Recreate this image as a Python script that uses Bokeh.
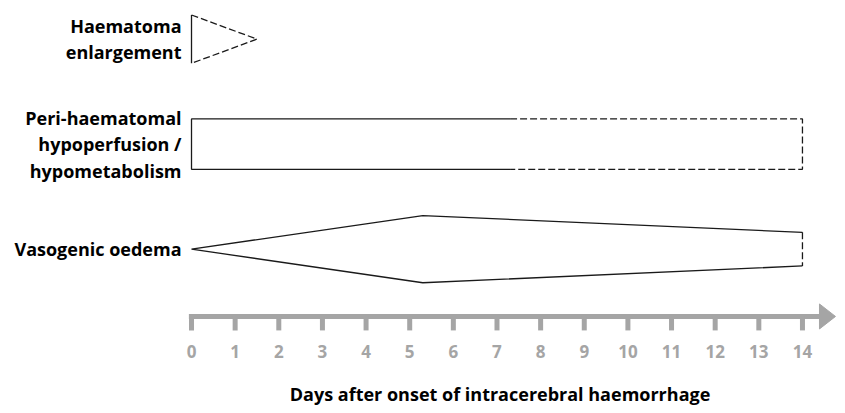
from bokeh.plotting import figure
from bokeh.models import Range1d
from bokeh.core.properties import value
from bokeh.embed import file_html
from bokeh.resources import INLINE

# ---------------- data ----------------
row_labels = ["Haematoma\nenlargement",
              "Peri-haematomal\nhypoperfusion /\nhypometabolism",
              "Vasogenic oedema"]
row_pos = [2, 1, 0]
days = list(range(0, 15))
day_labels = [str(d) for d in days]
axis_title = "Days after onset of intracerebral haemorrhage"

# haematoma enlargement: expanding from onset until ~1.5 days
haem_start, haem_end = 0.0, 1.5
haem_size = 0.46
# peri-haematomal hypoperfusion: certain to ~7.3 days, uncertain until 14
perf_start, perf_solid_end, perf_end = 0.0, 7.3, 14.0
perf_size = 0.48
# vasogenic oedema: grows to a peak ~5.3 days, declines until 14
oed_start, oed_peak_day, oed_end = 0.0, 5.3, 14.0
oed_peak_size, oed_end_size = 0.64, 0.32

# ---------------- style ----------------
INK = "#1a1a1a"
GREY = "#a5a5a5"
FONT = value("Open Sans")
DASH = "7 3"
LW = 1.3

p = figure(width=837, height=405, output_backend="svg", toolbar_location=None,
           x_range=Range1d(-4.377, 14.803), y_range=Range1d(-1.489, 2.368),
           min_border=0, outline_line_color=None)
p.axis.visible = False
p.grid.visible = False
p.background_fill_color = "white"
p.border_fill_color = "white"

# haematoma enlargement triangle
yH = row_pos[0]
p.line([haem_start, haem_start], [yH + haem_size / 2, yH - haem_size / 2],
       line_color=INK, line_width=LW)
p.line([haem_start, haem_end, haem_start],
       [yH + haem_size / 2, yH, yH - haem_size / 2],
       line_color=INK, line_width=LW, line_dash=DASH)

# hypoperfusion rectangle
yP = row_pos[1]
p.line([perf_solid_end, perf_start, perf_start, perf_solid_end],
       [yP + perf_size / 2, yP + perf_size / 2, yP - perf_size / 2, yP - perf_size / 2],
       line_color=INK, line_width=LW)
p.line([perf_solid_end, perf_end, perf_end, perf_solid_end],
       [yP + perf_size / 2, yP + perf_size / 2, yP - perf_size / 2, yP - perf_size / 2],
       line_color=INK, line_width=LW, line_dash=DASH)

# vasogenic oedema
yV = row_pos[2]
p.line([oed_end, oed_peak_day, oed_start, oed_peak_day, oed_end],
       [yV + oed_end_size / 2, yV + oed_peak_size / 2, yV,
        yV - oed_peak_size / 2, yV - oed_end_size / 2],
       line_color=INK, line_width=LW)
p.line([oed_end, oed_end], [yV + oed_end_size / 2, yV - oed_end_size / 2],
       line_color=INK, line_width=LW, line_dash=DASH)

# row labels
p.text(x=[0] * len(row_labels), y=row_pos, text=row_labels, x_offset=-10,
       text_align="right", text_baseline="middle", text_font=FONT,
       text_font_style="bold", text_font_size="18px", text_line_height=1.1,
       text_color="black")

# time axis (arrow)
axis_y = -0.641
tick_len = 0.133
head_base, head_tip, head_half = 14.39, 14.757, 0.119
p.line([days[0] - 0.06, head_base + 0.05], [axis_y, axis_y], line_color=GREY, line_width=5)
p.patch([head_base, head_tip, head_base],
        [axis_y + head_half, axis_y, axis_y - head_half],
        fill_color=GREY, line_color=GREY)
p.segment(x0=days, y0=[axis_y] * len(days), x1=days, y1=[axis_y - tick_len] * len(days),
          line_color=GREY, line_width=5)
p.text(x=days, y=[-0.974] * len(days), text=day_labels, text_align="center",
       text_baseline="middle", text_font=FONT, text_font_style="bold",
       text_font_size="17px", text_color=GREY)

# axis title
p.text(x=[7.07], y=[-1.384], text=[axis_title], text_align="center",
       text_baseline="middle", text_font=FONT, text_font_style="bold",
       text_font_size="18px", text_color="black")

open("out.html", "w").write(file_html(p, INLINE))
